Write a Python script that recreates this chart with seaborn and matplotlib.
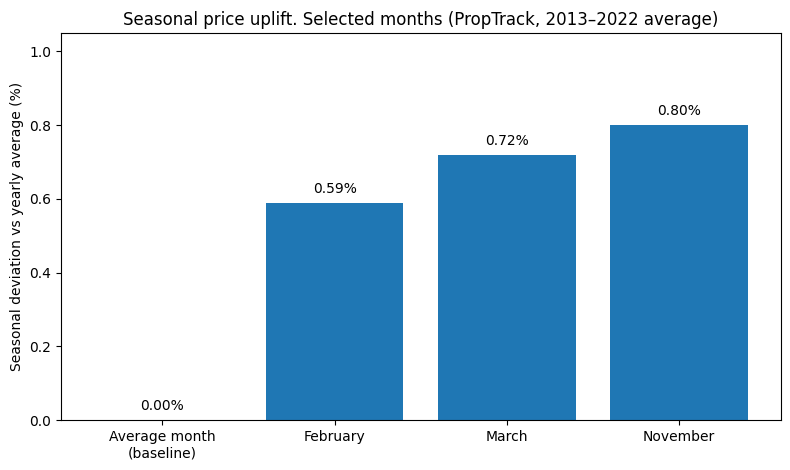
import matplotlib
matplotlib.use("Agg")
import matplotlib.pyplot as plt
import seaborn as sns
import pandas as pd

months = ["Average month\n(baseline)", "February", "March", "November"]
uplift = [0.00, 0.59, 0.72, 0.80]

df = pd.DataFrame({"month": months, "uplift": uplift})

fig, ax = plt.subplots(figsize=(7.9, 4.7), dpi=100)
sns.barplot(data=df, x="month", y="uplift", color="#1f77b4", saturation=1, width=0.8, ax=ax)

for i, v in enumerate(uplift):
    ax.annotate(f"{v:.2f}%", (i, v), xytext=(0, 5), textcoords="offset points",
                ha="center", va="bottom", fontsize=10)

# match plain matplotlib bar margins
ax.set_xlim(-0.59, len(months) - 1 + 0.59)
ax.set_ylim(0, 1.05)
ax.set_xlabel("")
ax.set_ylabel("Seasonal deviation vs yearly average (%)")
ax.set_title("Seasonal price uplift. Selected months (PropTrack, 2013–2022 average)")
fig.subplots_adjust(left=0.077, right=0.988, top=0.93, bottom=0.106)
plt.savefig("out.png", dpi=100)
